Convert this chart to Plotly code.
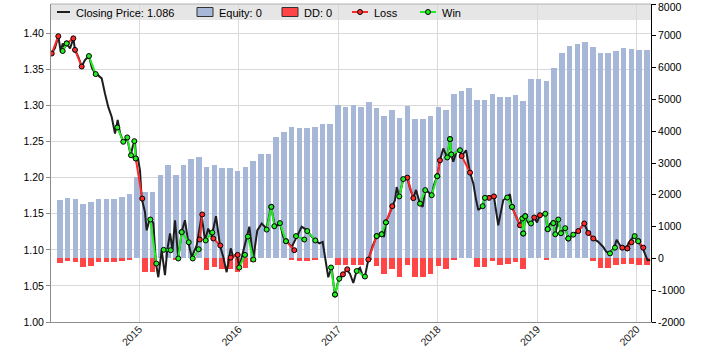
import plotly.graph_objects as go

# ---------------- data ----------------
# closing price (EUR/USD-like), dates as decimal years
price_dates = [
    2014.120, 2014.153, 2014.186, 2014.210, 2014.230, 2014.248, 2014.270, 2014.304, 2014.337, 2014.354,
    2014.387, 2014.421, 2014.454, 2014.494, 2014.524, 2014.554, 2014.584, 2014.622, 2014.655, 2014.688,
    2014.723, 2014.756, 2014.783, 2014.806, 2014.839, 2014.879, 2014.914, 2014.937, 2014.957, 2014.967,
    2014.987,
    2015.007, 2015.024, 2015.057, 2015.074, 2015.108, 2015.141, 2015.168, 2015.191, 2015.225, 2015.258,
    2015.281, 2015.309, 2015.334, 2015.359, 2015.392, 2015.426, 2015.459, 2015.492, 2015.527, 2015.577,
    2015.593, 2015.627, 2015.660, 2015.693, 2015.727, 2015.771, 2015.811, 2015.844, 2015.878, 2015.919,
    2015.945, 2015.979,
    2016.005, 2016.045, 2016.072, 2016.106, 2016.146, 2016.186, 2016.230, 2016.280, 2016.324, 2016.364,
    2016.414, 2016.447, 2016.487, 2016.532, 2016.582, 2016.632, 2016.688, 2016.733, 2016.773, 2016.809,
    2016.843, 2016.876, 2016.899, 2016.933, 2016.966, 2016.996,
    2017.017, 2017.047, 2017.084, 2017.117, 2017.151, 2017.184, 2017.218, 2017.251, 2017.268, 2017.302,
    2017.344, 2017.386, 2017.436, 2017.459, 2017.479, 2017.543, 2017.570, 2017.587, 2017.613, 2017.653,
    2017.693, 2017.721, 2017.754, 2017.781, 2017.821, 2017.848, 2017.874, 2017.905, 2017.939, 2017.962,
    2017.995,
    2018.022, 2018.055, 2018.095, 2018.123, 2018.136, 2018.156, 2018.188, 2018.223, 2018.240, 2018.284,
    2018.324, 2018.357, 2018.384, 2018.407, 2018.451, 2018.474, 2018.524, 2018.564, 2018.608, 2018.625,
    2018.658, 2018.698, 2018.725, 2018.745, 2018.776, 2018.826, 2018.849, 2018.859, 2018.879, 2018.906,
    2018.936, 2018.970, 2018.997,
    2019.027, 2019.080, 2019.104, 2019.127, 2019.161, 2019.181, 2019.211, 2019.238, 2019.281, 2019.312,
    2019.334, 2019.362, 2019.412, 2019.472, 2019.513, 2019.563, 2019.613, 2019.663, 2019.690, 2019.720,
    2019.774, 2019.797, 2019.847, 2019.897, 2019.917, 2019.971, 2020.008, 2020.058, 2020.108, 2020.135,
]
price_close = [
    1.372, 1.380, 1.396, 1.3745, 1.386, 1.380, 1.386, 1.379, 1.393, 1.377,
    1.3675, 1.354, 1.363, 1.3685, 1.352, 1.3445, 1.342, 1.3375, 1.3167, 1.298,
    1.284, 1.261, 1.280, 1.262, 1.2497, 1.254, 1.231, 1.245, 1.2497, 1.228,
    1.226,
    1.210, 1.171, 1.1526, 1.127, 1.144, 1.137, 1.081, 1.062, 1.0995, 1.065,
    1.0995, 1.1226, 1.100, 1.141, 1.088, 1.125, 1.141, 1.111, 1.090, 1.106,
    1.118, 1.148, 1.113, 1.1295, 1.118, 1.1466, 1.106, 1.090, 1.069, 1.102,
    1.090, 1.095,
    1.076, 1.0995, 1.112, 1.132, 1.088, 1.127, 1.1365, 1.1295, 1.160, 1.132,
    1.1365, 1.118, 1.111, 1.104, 1.118, 1.132, 1.127, 1.118, 1.113, 1.109,
    1.111, 1.081, 1.062, 1.076, 1.036, 1.055,
    1.060, 1.066, 1.0727, 1.067, 1.054, 1.0707, 1.075, 1.062, 1.063, 1.0865,
    1.105, 1.119, 1.1216, 1.118, 1.138, 1.1605, 1.169, 1.187, 1.174, 1.198,
    1.200, 1.185, 1.1716, 1.183, 1.164, 1.1595, 1.1827, 1.180, 1.1757, 1.190,
    1.202,
    1.224, 1.2405, 1.228, 1.2534, 1.232, 1.222, 1.236, 1.238, 1.230, 1.238,
    1.207, 1.192, 1.170, 1.155, 1.1605, 1.172, 1.1734, 1.174, 1.134, 1.1456,
    1.169, 1.1725, 1.177, 1.1595, 1.149, 1.134, 1.1434, 1.1226, 1.1466, 1.138,
    1.1365, 1.1448, 1.138,
    1.148, 1.150, 1.1286, 1.136, 1.137, 1.1216, 1.142, 1.123, 1.130, 1.1157,
    1.118, 1.121, 1.126, 1.1365, 1.1234, 1.1157, 1.111, 1.104, 1.098, 1.095,
    1.103, 1.114, 1.103, 1.102, 1.1096, 1.119, 1.112, 1.103, 1.0856, 1.086,
]

# trades
trade_entry_date = [2014.120, 2014.230, 2014.270, 2014.354, 2014.494, 2014.779, 2014.879, 2014.950, 2014.964, 2015.111,
                    2015.245, 2015.392, 2015.426, 2015.537, 2015.607, 2015.667, 2015.744, 2015.919, 2016.005, 2016.092,
                    2016.280, 2016.327, 2016.414, 2016.474, 2016.575, 2016.688, 2016.927, 2016.967, 2017.047, 2017.185,
                    2017.302, 2017.386, 2017.436, 2017.479, 2017.613, 2017.693, 2017.821, 2017.939, 2017.995, 2018.095,
                    2018.123, 2018.136, 2018.240, 2018.451, 2018.515, 2018.698, 2018.746, 2018.849, 2018.859, 2018.879,
                    2018.970, 2019.080, 2019.105, 2019.161, 2019.211, 2019.281, 2019.312, 2019.412, 2019.513, 2019.731,
                    2019.854, 2019.905, 2019.979, 2020.015]
trade_entry_price = [1.372, 1.3755, 1.386, 1.377, 1.3685, 1.2696, 1.2557, 1.2506, 1.2266, 1.142,
                     1.100, 1.088, 1.1245, 1.088, 1.1143, 1.113, 1.1157, 1.0893, 1.0755, 1.1184,
                     1.128, 1.1595, 1.137, 1.112, 1.119, 1.126, 1.0755, 1.038, 1.066, 1.0707,
                     1.0865, 1.119, 1.1216, 1.138, 1.174, 1.200, 1.164, 1.1757, 1.202, 1.228,
                     1.2534, 1.232, 1.230, 1.1605, 1.172, 1.1725, 1.1595, 1.1434, 1.1226, 1.1466,
                     1.1448, 1.150, 1.1286, 1.137, 1.142, 1.130, 1.1157, 1.126, 1.1234, 1.095,
                     1.103, 1.102, 1.119, 1.112]
trade_exit_date = [2014.186, 2014.270, 2014.337, 2014.421, 2014.562, 2014.839, 2014.917, 2014.964, 2015.030, 2015.171,
                   2015.316, 2015.426, 2015.497, 2015.597, 2015.633, 2015.734, 2015.814, 2015.989, 2016.062, 2016.146,
                   2016.327, 2016.357, 2016.474, 2016.558, 2016.658, 2016.769, 2016.967, 2017.010, 2017.090, 2017.268,
                   2017.386, 2017.436, 2017.479, 2017.543, 2017.653, 2017.754, 2017.874, 2017.995, 2018.022, 2018.123,
                   2018.136, 2018.223, 2018.324, 2018.474, 2018.565, 2018.746, 2018.826, 2018.859, 2018.879, 2018.937,
                   2019.027, 2019.105, 2019.161, 2019.181, 2019.238, 2019.312, 2019.362, 2019.472, 2019.563, 2019.781,
                   2019.905, 2019.947, 2020.015, 2020.065]
trade_exit_price = [1.396, 1.386, 1.393, 1.354, 1.3435, 1.2497, 1.231, 1.2266, 1.171, 1.081,
                    1.0995, 1.1245, 1.1105, 1.1008, 1.149, 1.124, 1.106, 1.093, 1.093, 1.0865,
                    1.1595, 1.1327, 1.112, 1.0995, 1.1143, 1.113, 1.038, 1.060, 1.073, 1.063,
                    1.119, 1.1216, 1.138, 1.1605, 1.198, 1.1716, 1.1827, 1.202, 1.224, 1.2534,
                    1.232, 1.238, 1.207, 1.172, 1.174, 1.1595, 1.134, 1.1226, 1.1466, 1.1365,
                    1.148, 1.1286, 1.137, 1.1216, 1.123, 1.1157, 1.121, 1.1365, 1.1157, 1.103,
                    1.102, 1.1105, 1.112, 1.103]
trade_result = ["L", "W", "L", "L", "W", "W", "W", "W", "L", "W",
                "W", "W", "W", "W", "L", "W", "L", "L", "W", "W",
                "W", "W", "W", "L", "W", "W", "W", "W", "L", "W",
                "L", "W", "W", "L", "W", "L", "W", "W", "L", "W",
                "W", "W", "L", "W", "L", "W", "L", "W", "W", "W",
                "L", "W", "W", "W", "W", "W", "W", "L", "L", "W",
                "L", "L", "W", "L"]

# equity / drawdown per 4-week chart bar
bar_first_date = 2014.203
bar_period = 0.0776
equity = [1850, 1913, 1882, 1724, 1787, 1882, 1882, 1882, 1945, 2040,
          2555, 2103, 2103, 2608, 2923, 2608, 2923, 3113, 3176, 2860,
          2934, 2850, 2850, 2755, 2881, 3070, 3291, 3291, 3827, 3985,
          4143, 4111, 4111, 4143, 4238, 4238, 4816, 4774, 4816, 4774,
          4932, 4742, 4490, 4679, 4427, 4805, 4395, 4395, 4490, 4774,
          4679, 5184, 5279, 5373, 4995, 4995, 5184, 5089, 5089, 5152,
          4963, 5626, 5626, 5594, 5973, 6446, 6667, 6730, 6793, 6635,
          6446, 6446, 6509, 6603, 6572, 6540, 6540]
drawdown = [-158, -95, -126, -284, -231, -126, -126, -126, -95, -20,
            0, -442, -442, 0, 0, -20, 0, 0, 0, -358,
            -263, -337, -347, -442, -315, -126, 0, 0, 0, 0,
            -63, -80, -80, -55, 0, 0, -210, -200, -200, -210,
            -60, -231, -505, -326, -578, -210, -599, -599, -505, -231,
            -326, -63, 0, 0, -284, -284, -95, -200, -190, -126,
            -326, 0, 0, -42, 0, 0, 0, 0, 0, -95,
            -294, -294, -221, -168, -168, -200, -200]
bar_dates = [bar_first_date + i * bar_period for i in range(len(equity))]

year_ticks = [2015, 2016, 2017, 2018, 2019, 2020]
price_ticks = [1.00, 1.05, 1.10, 1.15, 1.20, 1.25, 1.30, 1.35, 1.40]
equity_ticks = [-2000, -1000, 0, 1000, 2000, 3000, 4000, 5000, 6000, 7000, 8000]

# ---------------- style ----------------
BLUE = "#a7b7d7"
RED_BAR = "#ff4545"
GREEN = "#22ee22"
RED = "#ff2a2a"
FONT = "Liberation Sans, Arial, sans-serif"
TICK_SIZE = 10.5


def trade_xy(kind):
    xs, ys = [], []
    for e, ep, x, xp, r in zip(trade_entry_date, trade_entry_price, trade_exit_date, trade_exit_price, trade_result):
        if r == kind:
            xs += [e, x, None]
            ys += [ep, xp, None]
    return xs, ys


fig = go.Figure()
fig.add_trace(go.Bar(x=bar_dates, y=equity, width=bar_period * 0.72, marker=dict(color=BLUE, line_width=0),
                     yaxis="y", showlegend=False, hoverinfo="skip"))
fig.add_trace(go.Bar(x=bar_dates, y=drawdown, width=bar_period * 0.72, marker=dict(color=RED_BAR, line_width=0),
                     yaxis="y", showlegend=False, hoverinfo="skip"))
fig.add_trace(go.Scatter(x=price_dates, y=price_close, mode="lines", line=dict(color="#1e1e1e", width=2),
                         yaxis="y2", showlegend=False))
for kind, col in (("L", RED), ("W", GREEN)):
    xs, ys = trade_xy(kind)
    fig.add_trace(go.Scatter(x=xs, y=ys, mode="lines+markers", yaxis="y2", showlegend=False,
                             line=dict(color=col, width=2),
                             marker=dict(size=5, color=col, line=dict(color="black", width=1))))

# plot area in pixels: x 51..651, y 4..321.7
L, R, T, B = 51, 651, 4, 321.7
def px(xp):
    return (xp - L) / (R - L)
def py(yp):
    return (B - yp) / (B - T)

shapes = [
    dict(type="rect", xref="paper", yref="paper", x0=0, x1=1, y0=py(20), y1=1,
         fillcolor="#e6e6e6", line=dict(width=0), layer="below"),
    dict(type="line", xref="paper", yref="paper", x0=0, x1=1, y0=1, y1=1, line=dict(color="#b0b0b0", width=1)),
    dict(type="line", xref="paper", yref="paper", x0=px(57), x1=px(70), y0=py(12), y1=py(12),
         line=dict(color="#1e1e1e", width=2)),
    dict(type="rect", xref="paper", yref="paper", x0=px(197), x1=px(213), y0=py(16.5), y1=py(7.5),
         fillcolor=BLUE, line=dict(color="#333", width=1)),
    dict(type="rect", xref="paper", yref="paper", x0=px(282), x1=px(298), y0=py(16.5), y1=py(7.5),
         fillcolor=RED_BAR, line=dict(color="#333", width=1)),
    dict(type="line", xref="paper", yref="paper", x0=px(352), x1=px(368), y0=py(12), y1=py(12),
         line=dict(color=RED, width=2)),
    dict(type="circle", xref="paper", yref="paper", x0=px(357.5), x1=px(362.5), y0=py(14.5), y1=py(9.5),
         fillcolor=RED, line=dict(color="black", width=1)),
    dict(type="line", xref="paper", yref="paper", x0=px(420), x1=px(436), y0=py(12), y1=py(12),
         line=dict(color=GREEN, width=2)),
    dict(type="circle", xref="paper", yref="paper", x0=px(425.5), x1=px(430.5), y0=py(14.5), y1=py(9.5),
         fillcolor=GREEN, line=dict(color="black", width=1)),
]
legend_texts = [(74, "Closing Price: 1.086"), (217, "Equity: 0"), (302, "DD: 0"), (372, "Loss"), (440, "Win")]
annotations = [dict(xref="paper", yref="paper", x=px(xp), y=py(12.5), text=t, showarrow=False,
                    xanchor="left", yanchor="middle", font=dict(size=11, color="black", family=FONT))
               for xp, t in legend_texts]
# top right-axis label, nudged just inside the page so it is not clipped
annotations.append(dict(xref="paper", yref="paper", x=px(656), y=py(6.8), text=str(equity_ticks[-1]),
                        showarrow=False, xanchor="left", yanchor="middle",
                        font=dict(size=TICK_SIZE, color="black", family=FONT)))
equity_ticktext = [str(v) for v in equity_ticks[:-1]] + [""]

fig.update_layout(
    width=701, height=362,
    margin=dict(l=L, r=701 - R, t=T, b=362 - B, autoexpand=False),
    paper_bgcolor="white", plot_bgcolor="white",
    font=dict(family=FONT, size=11, color="black"),
    barmode="overlay", bargap=0,
    showlegend=False,
    shapes=shapes, annotations=annotations,
    xaxis=dict(range=[2014.1126, 2020.143], tickvals=year_ticks, ticktext=[str(y) for y in year_ticks],
               tickangle=-45, showgrid=True, gridcolor="#d9d9d9", gridwidth=1, zeroline=False, automargin=False,
               ticklabelstandoff=-4, ticklabeloverflow="allow",
               showline=True, linecolor="#8c8c8c", linewidth=1, ticks="",
               tickfont=dict(size=TICK_SIZE, color="#222")),
    yaxis=dict(side="right", range=[-2000, 8000], tickvals=equity_ticks, ticktext=equity_ticktext,
               showgrid=False, zeroline=False, automargin=False, ticklabeloverflow="allow",
               showline=True, linecolor="black", linewidth=1, ticks="outside", ticklen=4, tickcolor="black",
               tickfont=dict(size=TICK_SIZE, color="black")),
    yaxis2=dict(side="left", overlaying="y", range=[1.0, 1.4406], tickvals=price_ticks, tickformat=".2f",
                automargin=False, ticklabeloverflow="allow",
                showgrid=True, gridcolor="#d9d9d9", gridwidth=1, zeroline=False,
                showline=True, linecolor="#8c8c8c", linewidth=1, ticks="outside", ticklen=4, tickcolor="#8c8c8c",
                tickfont=dict(size=TICK_SIZE, color="black")),
)

fig.write_html("out.html", config={"displayModeBar": False},
               post_script="document.body.style.margin='0';document.body.style.overflow='hidden';")
